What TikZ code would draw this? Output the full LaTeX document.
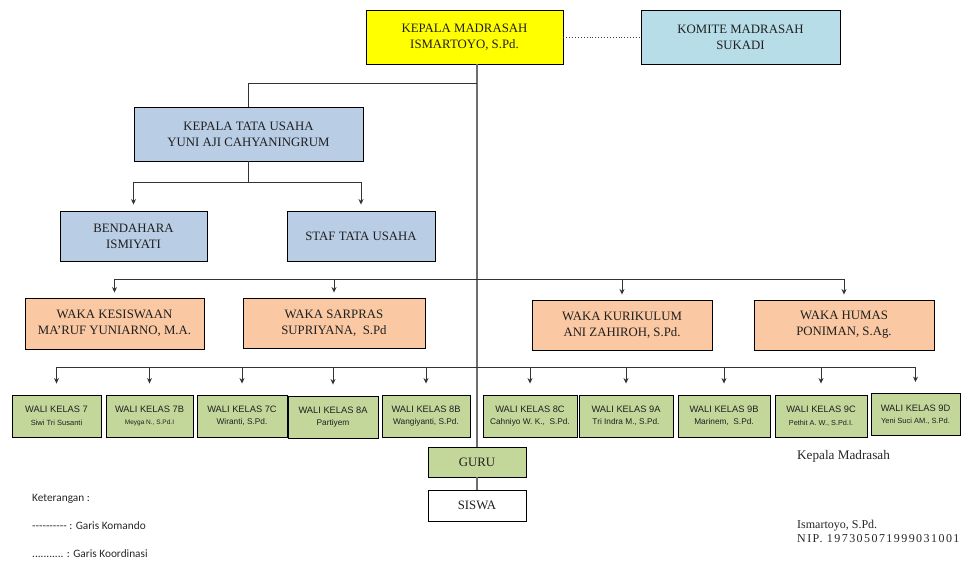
\documentclass[tikz,border=0pt]{standalone}
\usepackage{fontspec}
\setmainfont{Liberation Serif}
\newfontfamily\arialf{Liberation Sans}
\newfontfamily\calf{Carlito}
\usetikzlibrary{arrows.meta}
\definecolor{kmyellow}{HTML}{FFFF00}
\definecolor{komblue}{HTML}{B7DDE8}
\definecolor{tublue}{HTML}{B9CDE5}
\definecolor{wakapeach}{HTML}{FAC8A2}
\definecolor{waligreen}{HTML}{C4D79B}
\definecolor{linegray}{HTML}{6E6E6E}
\begin{document}
\begin{tikzpicture}[x=1pt,y=-1pt,
  box/.style={draw=black, line width=0.9pt, inner sep=1pt, align=center,
    text=black!88, font=\fontsize{12.8}{16}\selectfont},
  wbox/.style={box, fill=waligreen, minimum height=42pt,
    font=\arialf\fontsize{9.3}{12.5}\selectfont},
  conn/.style={draw=black!80, line width=0.9pt},
  arr/.style={conn, -{Stealth[length=5.5pt,width=5pt]}},
  mainline/.style={draw=linegray, line width=1.1pt},
  legend/.style={anchor=base west, inner sep=0pt, font=\calf\fontsize{11.3}{13}\selectfont, text=black!85},
  sig/.style={anchor=base west, inner sep=0pt, align=left, font=\fontsize{12}{13.5}\selectfont, text=black!85}
]
\useasboundingbox (0,0) rectangle (964,560);

% top
\node[box, fill=kmyellow, minimum width=197pt, minimum height=54pt] (km) at (464.5,37) {KEPALA MADRASAH\\ISMARTOYO, S.Pd.};
\node[box, fill=komblue, minimum width=199pt, minimum height=54pt] (kom) at (740.5,37) {KOMITE MADRASAH\\SUKADI};

% tata usaha
\node[box, fill=tublue, minimum width=229pt, minimum height=54pt] (ktu) at (248.5,134) {KEPALA TATA USAHA\\YUNI AJI CAHYANINGRUM};
\node[box, fill=tublue, minimum width=147pt, minimum height=50pt] (bend) at (133.5,236) {BENDAHARA\\ISMIYATI};
\node[box, fill=tublue, minimum width=148pt, minimum height=50pt] (staf) at (361,236) {STAF TATA USAHA};

% waka
\node[box, fill=wakapeach, minimum width=179pt, minimum height=51pt] (kes) at (114.5,323.5) {WAKA KESISWAAN\\MA’RUF YUNIARNO, M.A.};
\node[box, fill=wakapeach, minimum width=182pt, minimum height=50pt] (sar) at (334,323) {WAKA SARPRAS\\SUPRIYANA,\ \ S.Pd};
\node[box, fill=wakapeach, minimum width=180pt, minimum height=50pt] (kur) at (622,325) {WAKA KURIKULUM\\ANI ZAHIROH, S.Pd.};
\node[box, fill=wakapeach, minimum width=180pt, minimum height=50pt] (hum) at (844,325) {WAKA HUMAS\\PONIMAN, S.Ag.};

% wali kelas
\node[wbox, minimum width=89pt] (w1) at (56.5,416) {WALI KELAS 7\\{\fontsize{7.5}{9}\selectfont Siwi Tri Susanti}};
\node[wbox, minimum width=87pt] (w2) at (149.5,416) {WALI KELAS 7B\\{\fontsize{6.5}{9}\selectfont Meyga N., S.Pd.I}};
\node[wbox, minimum width=90pt] (w3) at (242,416) {WALI KELAS 7C\\{\fontsize{8.3}{10}\selectfont Wiranti, S.Pd.}};
\node[wbox, minimum width=90pt] (w4) at (333,417) {WALI KELAS 8A\\{\fontsize{8.3}{10}\selectfont Partiyem}};
\node[wbox, minimum width=88pt] (w5) at (426,416) {WALI KELAS 8B\\{\fontsize{8.3}{10}\selectfont Wangiyanti, S.Pd.}};
\node[wbox, minimum width=94pt] (w6) at (530,416) {WALI KELAS 8C\\{\fontsize{8.3}{10}\selectfont Cahniyo W. K.,\ \ S.Pd.}};
\node[wbox, minimum width=94pt] (w7) at (626,416) {WALI KELAS 9A\\{\fontsize{8.3}{10}\selectfont Tri Indra M., S.Pd.}};
\node[wbox, minimum width=92pt] (w8) at (724,416) {WALI KELAS 9B\\{\fontsize{8.3}{10}\selectfont Marinem,\ \ S.Pd.}};
\node[wbox, minimum width=92pt] (w9) at (821,416) {WALI KELAS 9C\\{\fontsize{7.3}{9.5}\selectfont Pethit A. W., S.Pd.I.}};
\node[wbox, minimum width=89pt] (w10) at (915.5,414.5) {WALI KELAS 9D\\{\fontsize{7.5}{9.5}\selectfont Yeni Suci AM., S.Pd.}};

% guru siswa
\node[box, fill=waligreen, minimum width=98pt, minimum height=30pt] (guru) at (477,462) {GURU};
\node[box, fill=white, minimum width=98pt, minimum height=31pt] (siswa) at (477,505.5) {SISWA};

% junction coordinates
\coordinate (j1) at (477,83);
\coordinate (j2) at (248.5,182);
\coordinate (j3) at (477,279);
\coordinate (j4) at (477,367);

% main line
\draw[mainline] (km.south -| guru.north) -- (guru.north);
\draw[mainline] (guru.south) -- (siswa.north);

% coordination line
\draw[dotted, line width=0.9pt, black!75] (km.east) -- (kom.west);

% tata usaha connectors
\draw[conn] (j1) -| (ktu.north);
\draw[conn] (ktu.south) -- (j2);
\draw[arr, shorten >=6pt] (j2) -| (bend.north);
\draw[arr, shorten >=6pt] (j2) -| (staf.north);

% waka connectors
\foreach \n in {kes,sar,kur,hum} \draw[arr, shorten >=5pt] (j3) -| (\n.north);

% wali connectors
\foreach \n in {w1,w2,w3,w4,w5,w6,w7,w8,w9,w10} \draw[arr, shorten >=11pt] (j4) -| (\n.north);

% legend
\node[legend] (lg1) at (32,501) {Keterangan :};
\node[legend] (lg2) at (32,529) {-{}-{}-{}-{}-{}-{}-{}-{}-{}- : Garis Komando};
\node[legend] (lg3) at (32,557) {........... : Garis Koordinasi};

% signature
\node[sig, font=\fontsize{13.2}{14}\selectfont] (sg1) at (797,459) {Kepala Madrasah};
\node[sig] (sg2) at (797,542) {Ismartoyo, S.Pd.\\{\addfontfeature{LetterSpace=12}NIP. 197305071999031001}};
\end{tikzpicture}
\end{document}
